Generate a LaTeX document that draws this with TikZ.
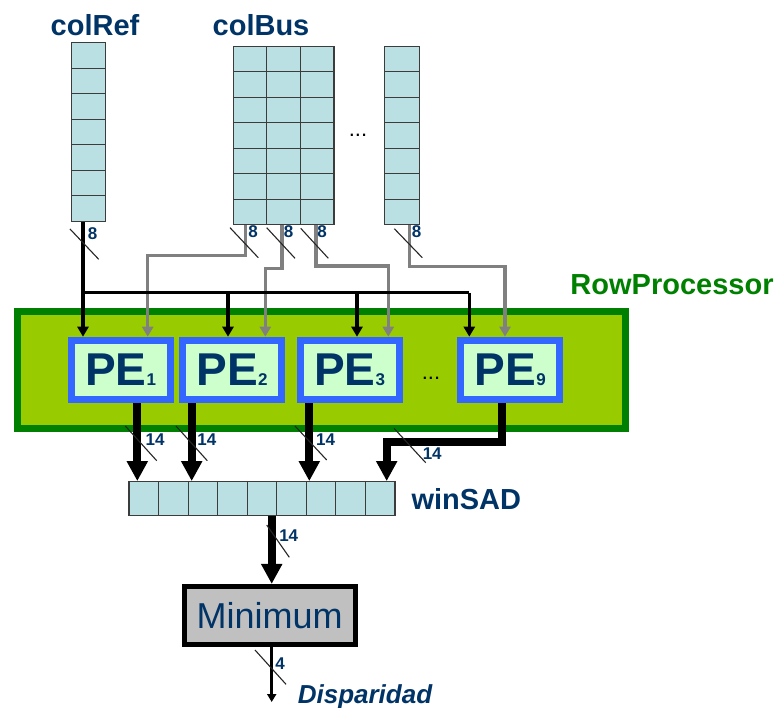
\documentclass[tikz,border=0pt]{standalone}
\usepackage{fontspec}
\setmainfont{Liberation Sans}
\usetikzlibrary{arrows.meta,calc}
\definecolor{navy}{RGB}{0,51,102}
\definecolor{dgreen}{RGB}{0,128,0}
\definecolor{lgreen}{RGB}{153,204,0}
\definecolor{peblue}{RGB}{51,102,255}
\definecolor{pefill}{RGB}{204,255,204}
\definecolor{cellfill}{RGB}{187,224,227}
\definecolor{celldraw}{RGB}{60,60,60}
\definecolor{wiregray}{RGB}{128,128,128}
\definecolor{mingray}{RGB}{192,192,192}
\newcommand\pesub[1]{{\fontsize{17}{17}\selectfont #1}}
\begin{document}
\begin{tikzpicture}[x=1pt,y=-1pt,
  cellbox/.style={draw=celldraw,fill=cellfill,line width=1.2pt,inner sep=0pt},
  cellline/.style={draw=celldraw,line width=1.2pt},
  title/.style={font=\fontsize{29}{32}\selectfont\bfseries,text=navy,anchor=base,inner sep=0pt},
  width/.style={font=\fontsize{17}{18}\selectfont\bfseries,text=navy,inner sep=0pt},
  slash/.style={draw=black!85,line width=1.1pt},
  blk/.style={draw=black,line width=3.5pt},
  gry/.style={draw=wiregray,line width=3.5pt},
  tipk/.style={-{Triangle[width=11pt,length=10pt]}},
  fat/.style={draw=black,line width=8pt,line join=miter,-{Triangle[width=20pt,length=20pt]}},
  pe/.style={draw=peblue,fill=pefill,line width=7pt,minimum width=99pt,minimum height=59.6pt,inner sep=0pt,
    font=\fontsize{46}{46}\selectfont\bfseries,text=navy},
  dotsty/.style={font=\fontsize{22}{22}\selectfont,anchor=base,inner sep=0pt}]
\useasboundingbox[fill=white] (0,0) rectangle (781,708);

% titles
\node[title] (tref) at (95,36) {colRef};
\node[title] (tbus) at (261,36) {colBus};

% column registers
\node[cellbox,minimum width=33.6pt,minimum height=178.6pt] (cref) at (88.5,132) {};
\foreach \i in {1,...,6} \draw[cellline] (71.7,42.7+\i*25.514) -- (105.3,42.7+\i*25.514);
\node[cellbox,minimum width=100.7pt,minimum height=178.4pt] (cbus) at (283.65,135.5) {};
\foreach \i in {1,...,6} \draw[cellline] (233.3,46.3+\i*25.486) -- (334,46.3+\i*25.486);
\foreach \i in {1,2} \draw[cellline] (233.3+\i*33.57,46.3) -- (233.3+\i*33.57,224.7);
\node[cellbox,minimum width=35pt,minimum height=178.4pt] (crt) at (401.8,135.5) {};
\foreach \i in {1,...,6} \draw[cellline] (384.3,46.3+\i*25.486) -- (419.3,46.3+\i*25.486);
\node[dotsty] (dots1) at (358,136.5) {...};

% row processor
\node[draw=dgreen,fill=lgreen,line width=7pt,minimum width=608.3pt,minimum height=116.4pt,inner sep=0pt] (rowp) at (321.65,370) {};
\node[font=\fontsize{29}{32}\selectfont\bfseries,text=dgreen,anchor=base,inner sep=0pt] (trow) at (672,295) {RowProcessor};

\node[pe] (pe1) at (120.7,370) {PE\pesub{1}};
\node[pe] (pe2) at (232.15,370) {PE\pesub{2}};
\node[pe] (pe3) at (349.7,370) {PE\pesub{3}};
\node[pe] (pe9) at (510.3,370) {PE\pesub{9}};
\node[dotsty] (dots2) at (431,379) {...};

% junction coordinates
\coordinate (bk1) at (83,292.7);
\coordinate (bk2) at (228,292.7);
\coordinate (bk3) at (357,292.7);
\coordinate (bk9) at (469.3,292.7);
\coordinate (g1a) at (245.7,255.3);
\coordinate (g1b) at (147.7,255.3);
\coordinate (g2a) at (282,268.7);
\coordinate (g2b) at (265.3,268.7);
\coordinate (g3a) at (316,266);
\coordinate (g3b) at (388.3,266);
\coordinate (g9a) at (409.7,266.7);
\coordinate (g9b) at (505,266.7);

% gray bus wires
\draw[gry,tipk] (g1a |- cbus.south) -- (g1a) -- (g1b) -- (g1b |- pe1.north);
\draw[gry,tipk] (g2a |- cbus.south) -- (g2a) -- (g2b) -- (g2b |- pe2.north);
\draw[gry,tipk] (g3a |- cbus.south) -- (g3a) -- (g3b) -- (g3b |- pe3.north);
\draw[gry,tipk] (g9a |- crt.south) -- (g9a) -- (g9b) -- (g9b |- pe9.north);

% black ref wires
\draw[blk,tipk] (bk1 |- cref.south) -- (bk1 |- pe1.north);
\draw[blk] (bk1) -- (bk9);
\draw[blk,tipk] (bk2) -- (bk2 |- pe1.north);
\draw[blk,tipk] (bk3) -- (bk3 |- pe1.north);
\draw[blk,tipk] (bk9) -- (bk9 |- pe1.north);

% slashes and widths at top
\draw[slash] (70,229) -- (98.7,259.3);
\draw[slash] (230,227.7) -- (258.3,257.7);
\draw[slash] (266.7,227.7) -- (295,258.3);
\draw[slash] (300.7,228.3) -- (328.3,258.3);
\draw[slash] (394.3,228.7) -- (422.3,257.7);
\node[width] (w0) at (92.7,233.5) {8};
\node[width] (w1) at (253,232) {8};
\node[width] (w2) at (288.7,232) {8};
\node[width] (w3) at (322,232) {8};
\node[width] (w9) at (416.7,231.7) {8};

% winSAD
\node[cellbox,minimum width=266pt,minimum height=34pt] (wsad) at (262,498.7) {};
\foreach \i in {1,...,8} \draw[cellline] (129+\i*29.556,481.7) -- (129+\i*29.556,515.7);
\node[title] (twsad) at (466.3,509) {winSAD};

% PE outputs
\coordinate (o1) at (137.3,440);
\coordinate (o2) at (191.7,440);
\coordinate (o3) at (309.3,440);
\coordinate (o9a) at (501.7,441.7);
\coordinate (o9b) at (386.7,441.7);
\draw[fat] (o1 |- pe1.south) -- (o1 |- wsad.north);
\draw[fat] (o2 |- pe2.south) -- (o2 |- wsad.north);
\draw[fat] (o3 |- pe3.south) -- (o3 |- wsad.north);
\draw[fat] (o9a |- pe9.south) -- (o9a) -- (o9b) -- (o9b |- wsad.north);
\draw[slash] (125.3,426) -- (156.7,460.7);
\draw[slash] (176,426) -- (207.3,460.7);
\draw[slash] (295,426) -- (326.7,460);
\draw[slash] (394,428.3) -- (425.7,462.7);
\node[width] (x1) at (155,439.3) {14};
\node[width] (x2) at (206.8,439.3) {14};
\node[width] (x3) at (325.5,439.3) {14};
\node[width] (x9) at (432.2,453.3) {14};

% Minimum
\node[draw=black,fill=mingray,line width=5pt,minimum width=171pt,minimum height=57.7pt,inner sep=0pt,
  font=\fontsize{36}{36}\selectfont,text=navy] (mn) at (269.7,615.3) {Minimum};
\coordinate (m1) at (271.7,550);
\draw[fat] (m1 |- wsad.south) -- (m1 |- mn.north);
\draw[slash] (266.7,525) -- (289.3,557.3);
\node[width] (xm) at (288.7,536) {14};

\coordinate (dout) at (271.7,702);
\draw[draw=black,line width=3.5pt,-{Triangle[width=9pt,length=8pt]}] (dout |- mn.south) -- (dout);
\draw[slash] (255,650) -- (286,684.3);
\node[width] (xd) at (280,664) {4};
\node[font=\fontsize{26}{28}\selectfont\bfseries\itshape,text=navy,anchor=base,inner sep=0pt] (disp) at (365,703) {Disparidad};
\end{tikzpicture}
\end{document}
